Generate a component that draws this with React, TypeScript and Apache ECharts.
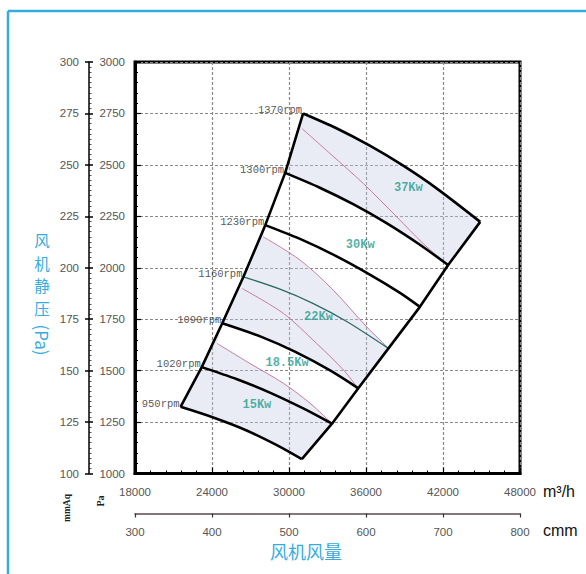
import React, { useEffect, useRef } from 'react';
import * as echarts from 'echarts';

// Fan speed curves: [airflow m³/h, static pressure Pa]
const rpm1370 = [[31100, 2750], [33700, 2678], [36300, 2593], [38900, 2496], [41500, 2386], [44900, 2223]];
const rpm1300 = [[29700, 2461], [32400, 2389], [35000, 2309], [37600, 2217], [40200, 2112], [42400, 2013]];
const rpm1230 = [[28150, 2207], [30900, 2139], [33600, 2059], [36300, 1967], [38650, 1878], [40200, 1810]];
const rpm1160 = [[26450, 1956], [29300, 1896], [31900, 1826], [34500, 1739], [37750, 1608]];
const rpm1090 = [[24800, 1730], [27850, 1664], [30500, 1591], [33200, 1501], [35400, 1414]];
const rpm1020 = [[23200, 1517], [25950, 1458], [28550, 1392], [31150, 1315], [33350, 1242]];
const rpm950 = [[21550, 1324], [24100, 1272], [26700, 1209], [29050, 1138], [31000, 1070]];

const speedNames = ['1370rpm', '1300rpm', '1230rpm', '1160rpm', '1090rpm', '1020rpm', '950rpm'];
const speedCurves = [rpm1370, rpm1300, rpm1230, rpm1160, rpm1090, rpm1020, rpm950];

// Iso-power boundaries between the motor power zones
const edge37to30 = [[31000, 2677], [33200, 2555], [35800, 2409], [38400, 2247], [40450, 2118], [42250, 2020]];
const edge30to22 = [[28000, 2150], [30870, 2037], [33450, 1891], [36050, 1713], [37650, 1615]];
const edge22to18 = [[26350, 1899], [29570, 1778], [32150, 1632], [34250, 1503], [35300, 1420]];
const edge18to15 = [[24400, 1632], [26950, 1535], [29570, 1438], [31650, 1341], [33300, 1246]];
const powerEdges = [edge37to30, edge30to22, edge22to18, edge18to15];

// Motor power zone names and where they are written
const powerNames = ['37Kw', '30Kw', '22Kw', '18.5Kw', '15Kw'];
const powerNameAt = [[39300, 2387], [35550, 2110], [32300, 1761], [29850, 1535], [27500, 1333]];

// Axis ranges: [min, max, interval]
const flowRange = [18000, 48000, 6000];
const cmmRange = [300, 800, 100];
const paRange = [1000, 3000, 250];
const mmAqRange = [100, 300, 25];

// Vertical pressure title, one character per row
const pressureTitleChars = ['风', '机', '静', '压'];

const rev = (a: number[][]) => [...a].reverse();
const shadedZones = [
  [...rpm1370, ...rev(rpm1300)],
  [rpm1230[0], ...edge30to22, ...rev(rpm1160)],
  [...rpm1160, ...rev(rpm1090)],
  [rpm1090[0], ...edge18to15, ...rev(rpm1020)],
  [...rpm1020, ...rev(rpm950)],
];
const leftEdge = speedCurves.map((c) => c[0]);
const rightEdge = speedCurves.map((c) => c[c.length - 1]);

const tickFont = {
  color: '#555',
  fontSize: 11.5,
  fontFamily: 'Liberation Sans, Arial, sans-serif',
  formatter: (v: number) => String(v),
};
const cyan = '#35ace0';

export default function App() {
  const ref = useRef<HTMLDivElement>(null);

  useEffect(() => {
    if (!ref.current) return;
    const chart = echarts.init(ref.current, null, { renderer: 'svg' });

    const curveSeries = speedCurves.map((pts, i) => ({
      type: 'line',
      name: speedNames[i],
      data: pts,
      smooth: 0.3,
      symbol: 'none',
      silent: true,
      z: 4,
      lineStyle: speedNames[i] === '1160rpm'
        ? { color: '#2d6a66', width: 1.3 }
        : { color: '#000', width: 2.6 },
    }));

    const edgeSeries = powerEdges.map((pts) => ({
      type: 'line',
      data: pts,
      smooth: 0.3,
      symbol: 'none',
      silent: true,
      z: 3,
      lineStyle: { color: '#c77aa2', width: 1 },
    }));

    const titleChars = pressureTitleChars.map((ch, i) => ({
      type: 'text', x: 42, y: 240 + i * 22.5, silent: true,
      style: {
        text: ch, fill: cyan, fontSize: 15.5,
        fontFamily: 'Noto Sans CJK SC, sans-serif', align: 'center', verticalAlign: 'middle',
      },
    }));

    const option: any = {
      animation: false,
      backgroundColor: '#fff',
      grid: {
        left: 135, top: 62, right: 66, bottom: 100.5,
        show: true, borderColor: '#000', borderWidth: 3,
        outerBoundsMode: 'none',
      },
      xAxis: [
        {
          type: 'value', min: flowRange[0], max: flowRange[1], interval: flowRange[2],
          position: 'bottom',
          axisLine: { show: true, onZero: false, lineStyle: { color: '#000', width: 3 } },
          axisTick: { show: true, inside: true, length: 6, lineStyle: { color: '#000', width: 1.2 } },
          minorTick: { show: true, splitNumber: 5, length: 3, lineStyle: { color: '#000', width: 1 } },
          axisLabel: { margin: 12, ...tickFont },
          splitLine: { show: true, lineStyle: { color: '#888', width: 1.2, type: [3, 2] } },
        },
        {
          type: 'value', min: cmmRange[0], max: cmmRange[1], interval: cmmRange[2],
          position: 'bottom', offset: 40,
          axisLine: { show: true, onZero: false, lineStyle: { color: '#5a4a50', width: 1.5 } },
          axisTick: { show: true, inside: false, length: 4, lineStyle: { color: '#333', width: 1.2 } },
          axisLabel: { margin: 12, ...tickFont },
          splitLine: { show: false },
        },
      ],
      yAxis: [
        {
          type: 'value', min: paRange[0], max: paRange[1], interval: paRange[2],
          position: 'left',
          axisLine: { show: true, onZero: false, lineStyle: { color: '#000', width: 3 } },
          axisTick: { show: true, inside: true, length: 6, lineStyle: { color: '#000', width: 1.2 } },
          minorTick: { show: true, splitNumber: 5, length: 3, lineStyle: { color: '#000', width: 1 } },
          axisLabel: { margin: 10, ...tickFont },
          splitLine: { show: true, lineStyle: { color: '#888', width: 1.2, type: [3, 2] } },
        },
        {
          type: 'value', min: mmAqRange[0], max: mmAqRange[1], interval: mmAqRange[2],
          position: 'left', offset: 46,
          axisLine: { show: true, onZero: false, lineStyle: { color: '#000', width: 1.5 } },
          axisTick: { show: true, inside: false, length: 4, lineStyle: { color: '#000', width: 1.5 } },
          axisLabel: { margin: 10, ...tickFont },
          splitLine: { show: false },
        },
        {
          type: 'value', min: mmAqRange[0], max: mmAqRange[1], interval: mmAqRange[2],
          position: 'left', offset: 46,
          axisLine: { show: false },
          axisTick: { show: true, inside: true, length: 4, lineStyle: { color: '#000', width: 1.5 } },
          minorTick: { show: true, splitNumber: 10, length: 2.5, lineStyle: { color: '#222', width: 0.8 } },
          axisLabel: { show: false },
          splitLine: { show: false },
        },
      ],
      series: [
        {
          type: 'custom',
          xAxisIndex: 0,
          yAxisIndex: 0,
          silent: true,
          z: 1,
          data: shadedZones.map((z) => z[0]),
          renderItem: (params: any, api: any) => ({
            type: 'polygon',
            shape: { points: shadedZones[params.dataIndex].map((p) => api.coord(p)) },
            style: { fill: 'rgba(200,206,228,0.38)' },
          }),
        },
        ...edgeSeries,
        ...curveSeries,
        {
          type: 'line', data: leftEdge, symbol: 'none', silent: true, z: 4,
          lineStyle: { color: '#000', width: 2.6 },
        },
        {
          type: 'line', data: rightEdge, symbol: 'none', silent: true, z: 4,
          lineStyle: { color: '#000', width: 2.6 },
        },
        {
          type: 'scatter',
          symbolSize: 0,
          silent: true,
          z: 5,
          data: speedCurves.map((c, i) => ({ value: c[0], name: speedNames[i] })),
          label: {
            show: true, position: 'left', distance: 1, offset: [0, -3], formatter: '{b}',
            fontFamily: 'Liberation Mono, monospace', fontSize: 10.5, color: '#2a2a2a',
          },
        },
        {
          type: 'scatter',
          symbolSize: 0,
          silent: true,
          z: 5,
          data: powerNames.map((n, i) => ({ value: powerNameAt[i], name: n })),
          label: {
            show: true, position: 'inside', formatter: '{b}',
            fontFamily: 'Liberation Mono, monospace', fontWeight: 'bold', fontSize: 12, color: '#1f9c8f',
          },
        },
      ],
      graphic: [
        { type: 'line', silent: true, shape: { x1: 8, y1: 11, x2: 586, y2: 11 }, style: { stroke: cyan, lineWidth: 2.5 } },
        { type: 'line', silent: true, shape: { x1: 8, y1: 11, x2: 8, y2: 574 }, style: { stroke: cyan, lineWidth: 2.5 } },
        ...titleChars,
        {
          type: 'text', x: 42, y: 340, rotation: -Math.PI / 2, silent: true,
          style: {
            text: '(Pa)', fill: cyan, fontSize: 17,
            fontFamily: 'Noto Sans CJK SC, sans-serif', align: 'center', verticalAlign: 'middle',
          },
        },
        {
          type: 'text', x: 306, y: 551, silent: true,
          style: {
            text: '风机风量', fill: cyan, fontSize: 18,
            fontFamily: 'Noto Sans CJK SC, sans-serif', align: 'center', verticalAlign: 'middle',
          },
        },
        {
          type: 'text', x: 543, y: 491, silent: true,
          style: { text: 'm³/h', fill: '#111', fontSize: 16, fontFamily: 'Liberation Sans, Arial, sans-serif', align: 'left', verticalAlign: 'middle' },
        },
        {
          type: 'text', x: 543, y: 530, silent: true,
          style: { text: 'cmm', fill: '#111', fontSize: 16, fontFamily: 'Liberation Sans, Arial, sans-serif', align: 'left', verticalAlign: 'middle' },
        },
        {
          type: 'text', x: 67, y: 508, rotation: Math.PI / 2, silent: true,
          style: { text: 'mmAq', fill: '#222', fontSize: 9.5, fontWeight: 'bold', fontFamily: 'Liberation Serif, serif', align: 'center', verticalAlign: 'middle' },
        },
        {
          type: 'text', x: 100, y: 501, rotation: Math.PI / 2, silent: true,
          style: { text: 'Pa', fill: '#222', fontSize: 10, fontWeight: 'bold', fontFamily: 'Liberation Serif, serif', align: 'center', verticalAlign: 'middle' },
        },
      ],
    };

    chart.setOption(option);
    return () => chart.dispose();
  }, []);

  return (
    <div
      ref={ref}
      style={{ position: 'fixed', left: 0, top: 0, width: 586, height: 574, background: '#fff' }}
    />
  );
}
